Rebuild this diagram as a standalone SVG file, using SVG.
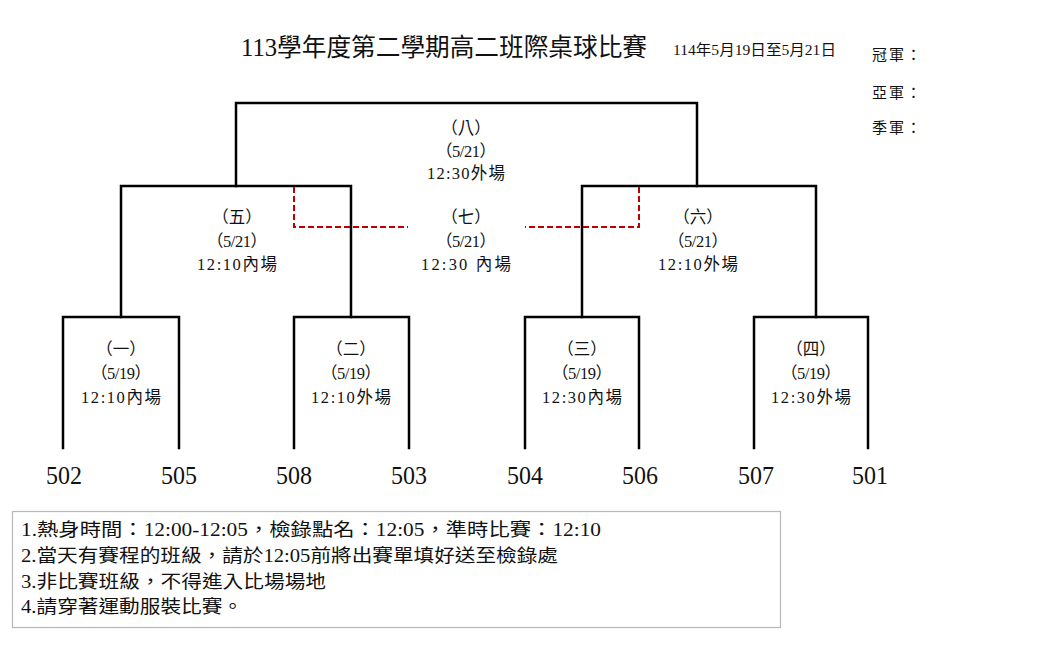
<svg xmlns="http://www.w3.org/2000/svg" width="1058" height="658" viewBox="0 0 1058 658">
<style>
.t{font-family:"Liberation Serif","Noto Sans CJK TC",serif;fill:#111;}
.lbl{font-size:16.5px;text-anchor:middle;}
.team{font-size:26px;text-anchor:middle;}
.note{font-size:18px;}
.champ{font-size:15px;letter-spacing:2px;}
.br{fill:none;stroke:#000;stroke-width:2.5;stroke-linejoin:miter;stroke-linecap:square;}
.red{fill:none;stroke:#c00000;stroke-width:2;stroke-dasharray:6 3;}
</style>
<rect width="1058" height="658" fill="#fff"/>
<g id="title">
<text class="t" x="241" y="56" font-size="24.5" textLength="406" lengthAdjust="spacingAndGlyphs">113學年度第二學期高二班際桌球比賽</text>
<text class="t" x="673" y="55" font-size="15" textLength="163" lengthAdjust="spacingAndGlyphs">114年5月19日至5月21日</text>
</g>
<g id="results">
<text class="t champ" x="872" y="60">冠軍：</text>
<text class="t champ" x="872" y="98">亞軍：</text>
<text class="t champ" x="872" y="133">季軍：</text>
</g>
<g id="connectors">
<path class="br" d="M236,186 V103 H697 V186"/>
<path class="br" d="M121,317 V186 H351 V317"/>
<path class="br" d="M582,317 V186 H816 V317"/>
<path class="br" d="M63,448 V317 H179 V448"/>
<path class="br" d="M294,448 V317 H409 V448"/>
<path class="br" d="M525,448 V317 H639 V448"/>
<path class="br" d="M754,448 V317 H868 V448"/>
<path class="red" d="M294,187 V227 H408"/>
<path class="red" d="M639,187 V227 H525"/>
</g>
<g id="m8">
<text class="t lbl" x="466" y="134">（八）</text>
<text class="t lbl" x="466" y="157" textLength="60" lengthAdjust="spacing">（5/21）</text>
<text class="t lbl" x="466" y="179" textLength="78" lengthAdjust="spacing">12:30外場</text>
</g>
<g id="m5">
<text class="t lbl" x="237" y="223">（五）</text>
<text class="t lbl" x="237" y="247" textLength="60" lengthAdjust="spacing">（5/21）</text>
<text class="t lbl" x="237" y="270" textLength="80" lengthAdjust="spacing">12:10內場</text>
</g>
<g id="m7">
<text class="t lbl" x="466" y="223">（七）</text>
<text class="t lbl" x="466" y="247" textLength="60" lengthAdjust="spacing">（5/21）</text>
<text class="t lbl" x="466" y="270" textLength="90" lengthAdjust="spacing">12:30 內場</text>
</g>
<g id="m6">
<text class="t lbl" x="698" y="223">（六）</text>
<text class="t lbl" x="698" y="247" textLength="60" lengthAdjust="spacing">（5/21）</text>
<text class="t lbl" x="698" y="270" textLength="80" lengthAdjust="spacing">12:10外場</text>
</g>
<g id="m1">
<text class="t lbl" x="121" y="355">（一）</text>
<text class="t lbl" x="121" y="379" textLength="60" lengthAdjust="spacing">（5/19）</text>
<text class="t lbl" x="121" y="403" textLength="80" lengthAdjust="spacing">12:10內場</text>
</g>
<g id="m2">
<text class="t lbl" x="351" y="355">（二）</text>
<text class="t lbl" x="351" y="379" textLength="60" lengthAdjust="spacing">（5/19）</text>
<text class="t lbl" x="351" y="403" textLength="80" lengthAdjust="spacing">12:10外場</text>
</g>
<g id="m3">
<text class="t lbl" x="582" y="355">（三）</text>
<text class="t lbl" x="582" y="379" textLength="60" lengthAdjust="spacing">（5/19）</text>
<text class="t lbl" x="582" y="403" textLength="80" lengthAdjust="spacing">12:30內場</text>
</g>
<g id="m4">
<text class="t lbl" x="811" y="355">（四）</text>
<text class="t lbl" x="811" y="379" textLength="60" lengthAdjust="spacing">（5/19）</text>
<text class="t lbl" x="811" y="403" textLength="80" lengthAdjust="spacing">12:30外場</text>
</g>
<g id="teams">
<text class="t team" x="64" y="484" textLength="36" lengthAdjust="spacingAndGlyphs">502</text>
<text class="t team" x="179" y="484" textLength="36" lengthAdjust="spacingAndGlyphs">505</text>
<text class="t team" x="294" y="484" textLength="36" lengthAdjust="spacingAndGlyphs">508</text>
<text class="t team" x="409" y="484" textLength="36" lengthAdjust="spacingAndGlyphs">503</text>
<text class="t team" x="525" y="484" textLength="36" lengthAdjust="spacingAndGlyphs">504</text>
<text class="t team" x="640" y="484" textLength="36" lengthAdjust="spacingAndGlyphs">506</text>
<text class="t team" x="756" y="484" textLength="36" lengthAdjust="spacingAndGlyphs">507</text>
<text class="t team" x="870" y="484" textLength="36" lengthAdjust="spacingAndGlyphs">501</text>
</g>
<g id="notes">
<rect x="12.5" y="511.5" width="768" height="116" fill="#fff" stroke="#b8b8b8" stroke-width="1.2"/>
<text class="t note" x="21" y="536" textLength="580" lengthAdjust="spacingAndGlyphs">1.熱身時間：12:00-12:05，檢錄點名：12:05，準時比賽：12:10</text>
<text class="t note" x="21" y="562" textLength="537" lengthAdjust="spacingAndGlyphs">2.當天有賽程的班級，請於12:05前將出賽單填好送至檢錄處</text>
<text class="t note" x="21" y="588" textLength="305" lengthAdjust="spacingAndGlyphs">3.非比賽班級，不得進入比場場地</text>
<text class="t note" x="21" y="613" textLength="222" lengthAdjust="spacingAndGlyphs">4.請穿著運動服裝比賽。</text>
</g>
</svg>
